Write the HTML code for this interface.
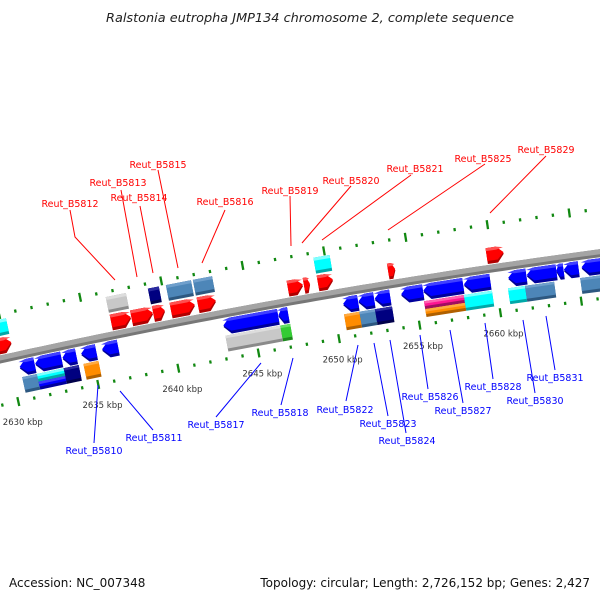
<!DOCTYPE html>
<html><head><meta charset="utf-8"><style>
html,body{margin:0;padding:0;background:#fff;}
svg{display:block;font-family:"DejaVu Sans","Liberation Sans",sans-serif;}
</style></head><body>
<svg id="chart" width="600" height="600" viewBox="0 0 600 600">
<text x="310" y="22" text-anchor="middle" font-size="12.5" font-style="italic" fill="#222" textLength="408" lengthAdjust="spacingAndGlyphs">Ralstonia eutropha JMP134 chromosome 2, complete sequence</text>
<text x="9" y="587" font-size="12" fill="#111">Accession: NC_007348</text>
<text x="590" y="587" text-anchor="end" font-size="12" fill="#111">Topology: circular; Length: 2,726,152 bp; Genes: 2,427</text>
<g id="feat"></g>
<g id="ann"></g>
</svg>
<script>
// ---- data (kbp) ----
const fwdStart=[2628.8,2636.54,2637.8,2639.15,2640.24,2641.91,2647.46,2648.45,2649.31,2653.63,2659.68];
const fwdEnd  =[2630.36,2637.77,2639.13,2639.87,2641.72,2643.02,2648.39,2648.82,2650.24,2654.07,2660.73];
const revStart=[2630.53,2631.5,2633.2,2634.36,2635.66,2643.19,2646.6,2650.6,2651.55,2652.55,2654.18,2655.55,2658.05,2660.78,2661.92,2663.74,2664.2,2665.29];
const revEnd  =[2631.46,2633.13,2634.05,2635.29,2636.65,2646.58,2647.2,2651.52,2652.51,2653.5,2655.53,2658.0,2659.67,2661.89,2663.74,2664.18,2665.1,2667.5];
const upBoxStart=[2628.5,2636.52,2639.12,2640.23,2641.89,2649.3];
const upBoxEnd  =[2630.35,2637.76,2639.79,2641.77,2643.07,2650.29];
const upBoxType =["cyan","gray","navy","steel","steel","cyan"];
const loBoxStart=[2630.55,2631.47,2631.47,2633.14,2634.37,2643.2,2646.6,2650.55,2651.5,2652.46,2655.49,2655.49,2657.95,2660.67,2661.72,2665.12];
const loBoxEnd  =[2631.47,2633.14,2633.14,2634.07,2635.3,2646.6,2647.21,2651.5,2652.46,2653.51,2657.95,2657.95,2659.68,2661.72,2663.51,2667.5];
const loBoxType =["steel","cyan","blue","navy","orange","gray","green","orange","steel","navy","pink","orange","cyan","cyan","steel","steel"];
const loBoxPart =["full","top","bot","full","full","full","full","full","full","full","top","bot","full","full","full","full"];
const tickKbp=[2630,2635,2640,2645,2650,2655,2660];
const tickText=["2630 kbp","2635 kbp","2640 kbp","2645 kbp","2650 kbp","2655 kbp","2660 kbp"];
const redNames=["Reut_B5812","Reut_B5813","Reut_B5814","Reut_B5815","Reut_B5816","Reut_B5819","Reut_B5820","Reut_B5821","Reut_B5825","Reut_B5829"];
const blueNames=["Reut_B5810","Reut_B5811","Reut_B5817","Reut_B5818","Reut_B5822","Reut_B5823","Reut_B5824","Reut_B5826","Reut_B5827","Reut_B5828","Reut_B5830","Reut_B5831"];

// ---- layout ----
const NS="http://www.w3.org/2000/svg";
const R=7137,CX=1544,CY=7327.5,PER=2*Math.PI/2726.152;
function phi(k){return -0.2053+(k-2635)*PER;}
function pt(k,v){const r=R-v,a=phi(k);return [CX+r*Math.sin(a),CY-r*Math.cos(a)];}
function P(list){return list.map(p=>p[0].toFixed(2)+","+p[1].toFixed(2)).join(" ");}
const COL={red:["#ff0000","#b00000","#ff5050"],blue:["#0000ff","#00009a","#4040ff"],cyan:["#00ffff","#00a8a8","#80ffff"],gray:["#c8c8c8","#8a8a8a","#dddddd"],navy:["#000080","#00004a","#2a2aa0"],steel:["#4d86b8","#2d5880","#6f9fcc"],orange:["#ff8c00","#b06000","#ffaa40"],pink:["#ff1493","#a00d60","#ff60b0"],green:["#33cc33","#1e8a1e","#66e066"]};
const feat=document.getElementById('feat'),ann=document.getElementById('ann');
function poly(g,pts,fill){const e=document.createElementNS(NS,'polygon');e.setAttribute('points',P(pts));e.setAttribute('fill',fill);g.appendChild(e);return e;}
function boxPts(k1,k2,v1,v2){return [pt(k1,v1),pt(k2,v1),pt(k2,v2),pt(k1,v2)];}
function arrowPts(k1,k2,v1,v2,dir){const h=Math.min(0.45*(k2-k1),0.42),m=(v1+v2)/2;
 if(dir>0)return [pt(k1,v1),pt(k2-h,v1),pt(k2,m),pt(k2-h,v2),pt(k1,v2)];
 return [pt(k1+h,v1),pt(k2,v1),pt(k2,v2),pt(k1+h,v2),pt(k1,m)];}

// backbone
(function(){const top=[],bot=[],mid=[];for(let k=2626;k<=2670;k+=0.5){top.push(pt(k,-4));bot.push(pt(k,4));mid.push(pt(k,1));}
 const b=poly(feat,top.concat(bot.slice().reverse()),"#777777");
 const l=poly(feat,top.concat(mid.slice().reverse()),"#a4a4a4");})();

// ticks
for(let k=2626;k<=2669;k++){const major=k%5===0;
 [[-44],[45]].forEach(([v])=>{const v1=major?v-4.5:v-1.6,v2=major?v+4.5:v+1.6;
  const e=poly(feat,boxPts(k-0.07,k+0.07,v1,v2),"#118811");
  
  });}
tickKbp.forEach((k,i)=>{const p=pt(k,66);const t=document.createElementNS(NS,'text');
 t.setAttribute('x',p[0]);t.setAttribute('y',p[1]+3);t.setAttribute('text-anchor','middle');t.setAttribute('font-size','8.5');t.setAttribute('fill','#333');
 t.textContent=tickText[i];
 
 
 feat.appendChild(t);});

function shape(pts,ptsLow,ptsTop,c,name){const g=document.createElementNS(NS,'g');
 
 
 poly(g,pts,c[1]);poly(g,ptsLow,c[0]);poly(g,ptsTop,c[2]);feat.appendChild(g);}
// boxes
upBoxStart.forEach((s,i)=>{const c=COL[upBoxType[i]],e=upBoxEnd[i];shape(boxPts(s,e,-39,-23),boxPts(s,e,-39,-26),boxPts(s,e,-39,-36),c,'gene-box-upper');});
loBoxStart.forEach((s,i)=>{const c=COL[loBoxType[i]],e=loBoxEnd[i];let v1=22,v2=38;if(loBoxPart[i]==='top')v2=30;if(loBoxPart[i]==='bot')v1=30;
 shape(boxPts(s,e,v1,v2),boxPts(s,e,v1,v2-3),boxPts(s,e,v1,v1+2.5),c,'gene-box-lower');});
// arrows
fwdStart.forEach((s,i)=>{const e=fwdEnd[i];shape(arrowPts(s,e,-21,-5,1),arrowPts(s,e,-21,-8,1),arrowPts(s,e,-21,-18,1),COL.red,'cds-forward');});
revStart.forEach((s,i)=>{const e=revEnd[i];shape(arrowPts(s,e,5,21,-1),arrowPts(s,e,5,18,-1),arrowPts(s,e,5,8,-1),COL.blue,'cds-reverse');});

// labels with leader lines (annotation layout)
const redLab=[[70,207,[[70,210],[75,237],[115,280]]],[118,186,[[121,190],[137,277]]],[139,201,[[140,206],[153,273]]],[158,168,[[158,170],[178,268]]],[225,205,[[225,210],[202,263]]],[290,194,[[290,196],[291,246]]],[351,184,[[351,186],[302,243]]],[415,172,[[411,175],[322,240]]],[483,162,[[485,164],[388,230]]],[546,153,[[546,156],[490,213]]]];
const blueLab=[[94,454,[[98,385],[94,443]]],[154,441,[[120,391],[153,430]]],[216,428,[[261,363],[216,417]]],[280,416,[[293,358],[281,405]]],[345,413,[[358,345],[346,401]]],[388,427,[[374,343],[388,416]]],[407,444,[[390,340],[406,433]]],[430,400,[[420,335],[428,389]]],[463,414,[[450,330],[463,403]]],[493,390,[[485,323],[493,379]]],[535,404,[[523,320],[535,393]]],[555,381,[[546,316],[555,370]]]];
function addLab(list,names,col){list.forEach((d,i)=>{const pl=document.createElementNS(NS,'polyline');
 pl.setAttribute('points',d[2].map(p=>p.join(',')).join(' '));pl.setAttribute('fill','none');pl.setAttribute('stroke',col);pl.setAttribute('stroke-width','1');
 
 
 ann.appendChild(pl);
 const t=document.createElementNS(NS,'text');t.setAttribute('x',d[0]);t.setAttribute('y',d[1]);t.setAttribute('text-anchor','middle');
 t.setAttribute('font-size','10');t.setAttribute('fill',col);t.setAttribute('textLength','57');t.setAttribute('lengthAdjust','spacingAndGlyphs');
 t.textContent=names[i];
 
 
 ann.appendChild(t);});}
addLab(redLab,redNames,"#ff0000");addLab(blueLab,blueNames,"#0000ff");
</script>
</body></html>
